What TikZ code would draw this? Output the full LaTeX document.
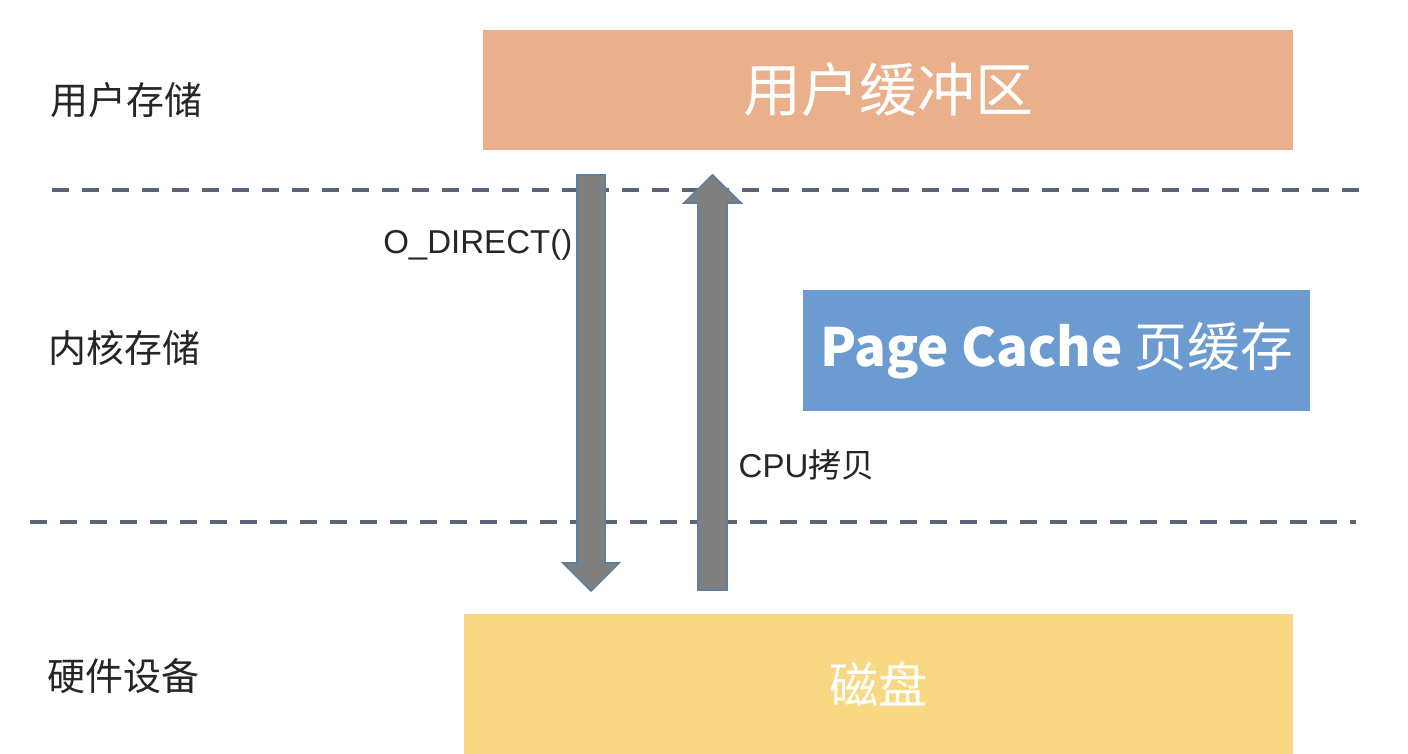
\documentclass[tikz,border=0pt]{standalone}
\usepackage{fontspec}
\setmainfont{Liberation Sans}
\newfontfamily\cjk{Noto Sans CJK SC}
\usetikzlibrary{positioning}
\definecolor{bufcol}{HTML}{EAB08C}
\definecolor{cachecol}{HTML}{6B9BD1}
\definecolor{diskcol}{HTML}{F8D883}
\definecolor{sepcol}{HTML}{5A6478}
\definecolor{arrowfill}{HTML}{7F7F7F}
\definecolor{arrowedge}{HTML}{5D7FA0}
\tikzset{
  layerlabel/.style={anchor=west,inner sep=0pt,text=black!85,font=\cjk\fontsize{10.8}{13}\selectfont},
  callname/.style={inner sep=0pt,text=black!85,font=\fontsize{9.4}{11}\selectfont},
  box/.style={inner sep=0pt,text=white},
  sep/.style={dash pattern=on 1.7mm off 1.3mm,line width=1.1pt,draw=sepcol},
  blockarrow/.style={fill=arrowfill,draw=arrowedge,line width=0.5pt,line join=miter}
}
\begin{document}
\begin{tikzpicture}[x=0.1mm,y=-0.1mm]
\useasboundingbox (0,0) rectangle (1408,754);
% layers
\node[layerlabel] (l_user) at (50,100) {用户存储};
\node[layerlabel] (l_kern) at (48,348) {内核存储};
\node[layerlabel] (l_hw) at (47,676) {硬件设备};
\draw[sep] (52,190) -- (1362,190);
\draw[sep] (30,522) -- (1356,522);
% boxes
\node[box,fill=bufcol,minimum width=81mm,minimum height=12mm,font=\cjk\fontsize{16.5}{20}\selectfont] (ubuf) at (888,90) {用户缓冲区};
\node[box,fill=cachecol,minimum width=50.7mm,minimum height=12.1mm,font=\cjk\fontsize{15}{18}\selectfont] (pcache) at (1056.5,350.5) {\textbf{Page Cache} 页缓存};
\node[box,fill=diskcol,minimum width=82.9mm,minimum height=14mm,font=\cjk\fontsize{14}{17}\selectfont] (disk) at (878.5,684) {磁盘};
% arrows
\path
(577,175) coordinate (D_1) (605,175) coordinate (D_2) (605,563) coordinate (D_3)
(619,563) coordinate (D_4) (591,591) coordinate (D_5) (563,563) coordinate (D_6)
(577,563) coordinate (D_7)
(698,590) coordinate (U_1) (727,590) coordinate (U_2) (727,203) coordinate (U_3)
(741,203) coordinate (U_4) (712.5,175) coordinate (U_5) (684,203) coordinate (U_6)
(698,203) coordinate (U_7)
;
\draw[blockarrow] (D_1)--(D_2)--(D_3)--(D_4)--(D_5)--(D_6)--(D_7)--cycle;
\draw[blockarrow] (U_1)--(U_2)--(U_3)--(U_4)--(U_5)--(U_6)--(U_7)--cycle;
\node[callname,anchor=east] (odirect) at (573,245) {O\_DIRECT()};
\node[callname,anchor=west] (cpucopy) at (738,465) {CPU{\cjk 拷贝}};
\end{tikzpicture}
\end{document}
